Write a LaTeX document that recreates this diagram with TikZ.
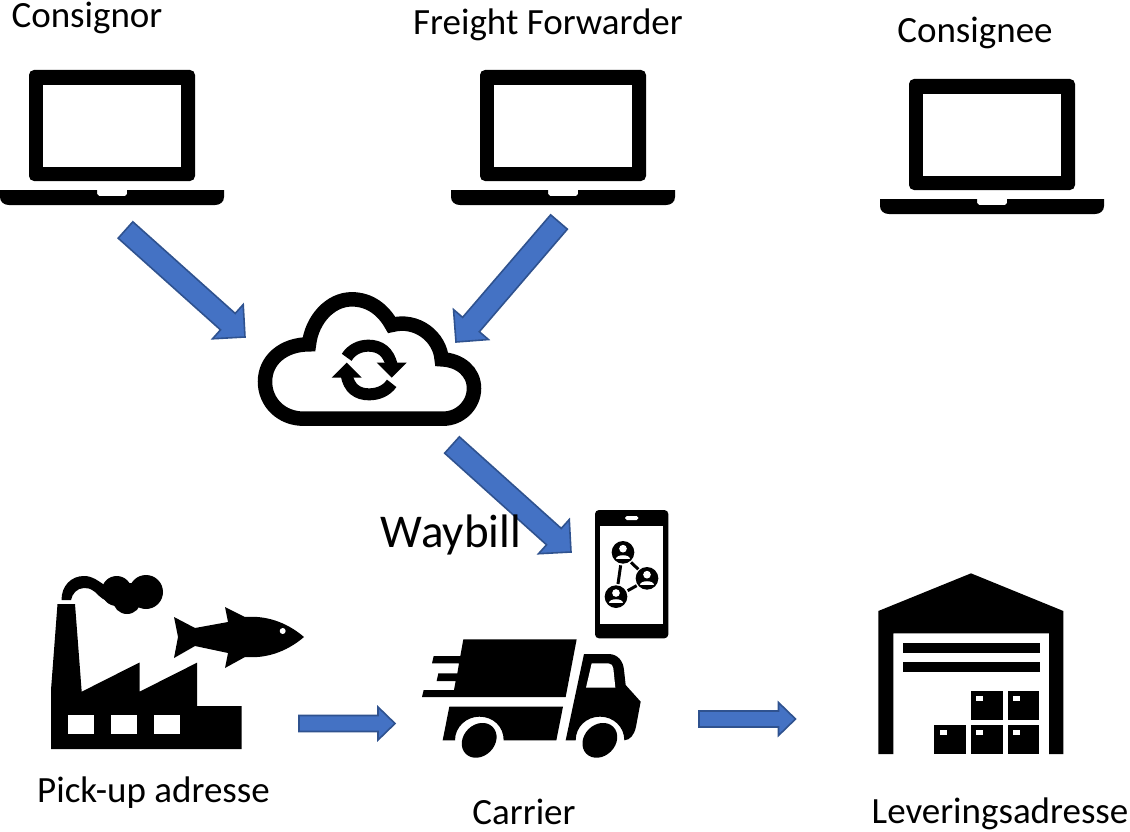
\documentclass[tikz,border=0pt]{standalone}
\usepackage{fontspec}
\setmainfont{Carlito}
\usetikzlibrary{calc}
\definecolor{arrowblue}{HTML}{4472C4}
\definecolor{arrowedge}{HTML}{2F528F}
\tikzset{
  icon/.style={fill=black,draw=none},
  hole/.style={fill=white,draw=none},
  blockarr/.style={fill=arrowblue,draw=arrowedge,line width=1.6pt,line join=miter},
  label/.style={font=\fontsize{37}{40}\selectfont,text=black,inner sep=0pt,anchor=center},
  biglabel/.style={font=\fontsize{47}{50}\selectfont,text=black,inner sep=0pt,anchor=center},
  zoomed/.style={x=0.33333pt,y=-0.33333pt}
}
% tail, tip, half width, half head width, head length
\newcommand{\blockarrow}[5]{%
  \coordinate (ba) at ($(#2)!#5pt!(#1)$);
  \draw[blockarr] ($(#1)!#3pt!90:(#2)$) -- ($(ba)!#3pt!90:(#2)$) -- ($(ba)!#4pt!90:(#2)$) -- (#2)
     -- ($(ba)!#4pt!-90:(#2)$) -- ($(ba)!#3pt!-90:(#2)$) -- ($(#1)!#3pt!-90:(#2)$) -- cycle;
}
\newcommand{\laptopicon}[2]{%
  \begin{scope}[shift={(#1,#2)}]
    \fill[icon,even odd rule,rounded corners=5pt] (29,181) -- (29,70) -- (195,70) -- (195,181) -- cycle;
    \fill[hole] (43,85) rectangle (180.5,167);
    \fill[icon] (0,190) -- (97,190) -- (97,194) -- (99,196) -- (125,196) -- (127,194) -- (127,190) -- (224,190)
       -- (224,197) .. controls (224,202) and (220,205) .. (215,205) -- (9,205) .. controls (4,205) and (0,202) .. (0,197) -- cycle;
  \end{scope}
}
\newcommand{\personicon}[2]{%
  \fill[icon] (#1,#2) circle (34);
  \fill[hole] (#1,#2-11) circle (11.5);
  \fill[hole] (#1-20,#2+20) .. controls (#1-20,#2+4) and (#1+20,#2+4) .. (#1+20,#2+20) -- cycle;
}
\newcommand{\boxicon}[2]{%
  \fill[icon] (#1,#2) rectangle (#1+95,#2+86);
  \fill[hole] (#1+16,#2+15) rectangle (#1+37,#2+29);
}
\begin{document}
\begin{tikzpicture}[x=1pt,y=-1pt]
\useasboundingbox (0,0) rectangle (1130,832);
\fill[white] (0,0) rectangle (1130,832);

% laptops
\laptopicon{0}{0}
\laptopicon{451}{0}
\laptopicon{880}{9}

% cloud
\begin{scope}[shift={(240,280)},zoomed]
  \draw[line width=14.5pt,line join=miter,miter limit=4]
    (190,416) .. controls (125,416) and (75,368) .. (75,305)
    .. controls (75,240) and (130,193) .. (207,193)
    .. controls (215,120) and (270,58) .. (335,58)
    .. controls (390,58) and (430,90) .. (455,135)
    .. controls (530,115) and (600,170) .. (605,238)
    .. controls (660,240) and (702,275) .. (702,325)
    .. controls (702,375) and (660,416) .. (610,416) -- cycle;
  \draw[line width=12pt] (320,232) .. controls (335,208) and (360,197) .. (385,197)
    .. controls (420,197) and (445,215) .. (455,255);
  \fill[icon] (410,248) -- (500,248) -- (455,293) -- cycle;
  \draw[line width=12pt] (455,310) .. controls (440,332) and (415,343) .. (387,343)
    .. controls (352,343) and (327,325) .. (320,285);
  \fill[icon] (275,293) -- (365,293) -- (320,248) -- cycle;
\end{scope}

% factory
\fill[icon] (51,749) -- (51,690) -- (57.5,604) -- (75,604) -- (81.7,691.7) -- (139.5,662.5) -- (139.5,691.7)
  -- (197,662.7) -- (197,706) -- (241.7,706) -- (241.7,749) -- cycle;
\fill[hole] (68.3,715) rectangle (94.3,734.3);
\fill[hole] (111.3,715) rectangle (137.3,734.3);
\fill[hole] (154.3,715) rectangle (180.3,734.3);
\fill[icon] (61.5,600) .. controls (61.5,586) and (71,576) .. (84,576) .. controls (93,576) and (98,581) .. (103,584)
  -- (113,603) .. controls (104,601) and (100,597) .. (95,592) .. controls (90,588) and (87,588) .. (84,588)
  .. controls (77,588) and (72,594) .. (71,600) -- cycle;
\fill[icon] (116.7,591) circle (15);
\fill[icon] (146,592) circle (17);
\fill[icon] (127,600) circle (14);
\fill[icon] (112,583) rectangle (146,604);

% fish
\fill[icon] (304,637) .. controls (290,625) and (270,615) .. (245,617) -- (225,607) -- (228,622) -- (195,628)
  -- (174,617) -- (178,637) -- (174,658) -- (195,646) -- (228,653) -- (225,668) -- (245,657)
  .. controls (270,659) and (290,649) .. (304,637) -- cycle;
\fill[hole] (282.7,631) circle (3);

% truck
\begin{scope}[shift={(400,500)},zoomed]
  \fill[icon] (190,418) -- (530,418) -- (497,591) -- (66,591) -- (71,570) -- (162,570) -- (167,543) -- (110,543)
    -- (115,520) -- (172,520) -- (177,490) -- (96,490) -- (101,468) -- (181,468) -- cycle;
  \fill[icon] (148,620) -- (489,620) -- (469,721) -- (311,721) .. controls (311,680) and (280,650) .. (238,650)
    .. controls (200,650) and (165,680) .. (165,721) -- (128,721) -- cycle;
  \fill[icon] (497,721) -- (552,462) -- (625,462) .. controls (655,462) and (670,485) .. (672,510) -- (677,555)
    -- (722,605) -- (708,680) .. controls (703,705) and (690,720) .. (673,721)
    .. controls (673,680) and (640,650) .. (600,650) .. controls (560,650) and (527,680) .. (527,721) -- cycle;
  \fill[hole] (575,490) -- (625,490) .. controls (634,490) and (639,497) .. (640,505) -- (646,563) -- (558,563) -- cycle;
  \fill[icon,rotate around={45:(237.5,721)}] (237.5,721) ellipse (57 and 47);
  \fill[icon,rotate around={45:(599.5,721)}] (599.5,721) ellipse (57 and 47);
\end{scope}

% phone
\begin{scope}[shift={(400,500)},zoomed]
  \fill[icon,rounded corners=4pt] (585,30) rectangle (805,415);
  \fill[hole] (601,77) rectangle (788,371);
  \fill[hole,rounded corners=1.8pt] (675,48) -- (715,48) -- (715,60) -- (675,60) -- cycle;
  \draw[line width=3pt] (662,196) -- (654,252);
  \draw[line width=3pt] (693,187) -- (715,208);
  \draw[line width=3pt] (683,272) -- (710,257);
  \personicon{669}{157}
  \personicon{741}{235}
  \personicon{648}{290}
\end{scope}

% warehouse
\begin{scope}[shift={(860,560)},zoomed]
  \fill[icon] (333,40) -- (610,153) -- (610,582) -- (567,582) -- (567,220) -- (100,220) -- (100,582) -- (55,582) -- (55,153) -- cycle;
  \fill[icon] (129,249) rectangle (540,279);
  \fill[icon] (129,306) rectangle (540,336);
  \boxicon{333}{394}
  \boxicon{443}{394}
  \boxicon{223}{496}
  \boxicon{333}{496}
  \boxicon{443}{496}
\end{scope}

% connector ends
\coordinate (a1tail) at (125.5,230); \coordinate (a1tip) at (245,337);
\coordinate (a2tail) at (559,222);   \coordinate (a2tip) at (456,342);
\coordinate (a3tail) at (452,445);   \coordinate (a3tip) at (571,552);
\coordinate (a4tail) at (299,723.5); \coordinate (a4tip) at (395,723.5);
\coordinate (a5tail) at (699,719);   \coordinate (a5tip) at (795.5,719);
\blockarrow{a1tail}{a1tip}{11}{23}{23}
\blockarrow{a2tail}{a2tip}{11}{23}{23}
\blockarrow{a3tail}{a3tip}{11}{23}{23}
\blockarrow{a4tail}{a4tip}{8}{16.5}{17}
\blockarrow{a5tail}{a5tip}{8}{16.5}{17}

% labels
\node[label] (consignor) at (87,18) {Consignor};
\node[label] (forwarder) at (548,25) {Freight Forwarder};
\node[label] (consignee) at (975,33) {Consignee};
\node[biglabel] (waybill) at (451,535) {Waybill};
\node[label] (pickup) at (153.5,793) {Pick-up adresse};
\node[label] (carrier) at (524,812) {Carrier};
\node[label] (delivery) at (1000,814) {Leveringsadresse};
\end{tikzpicture}
\end{document}
